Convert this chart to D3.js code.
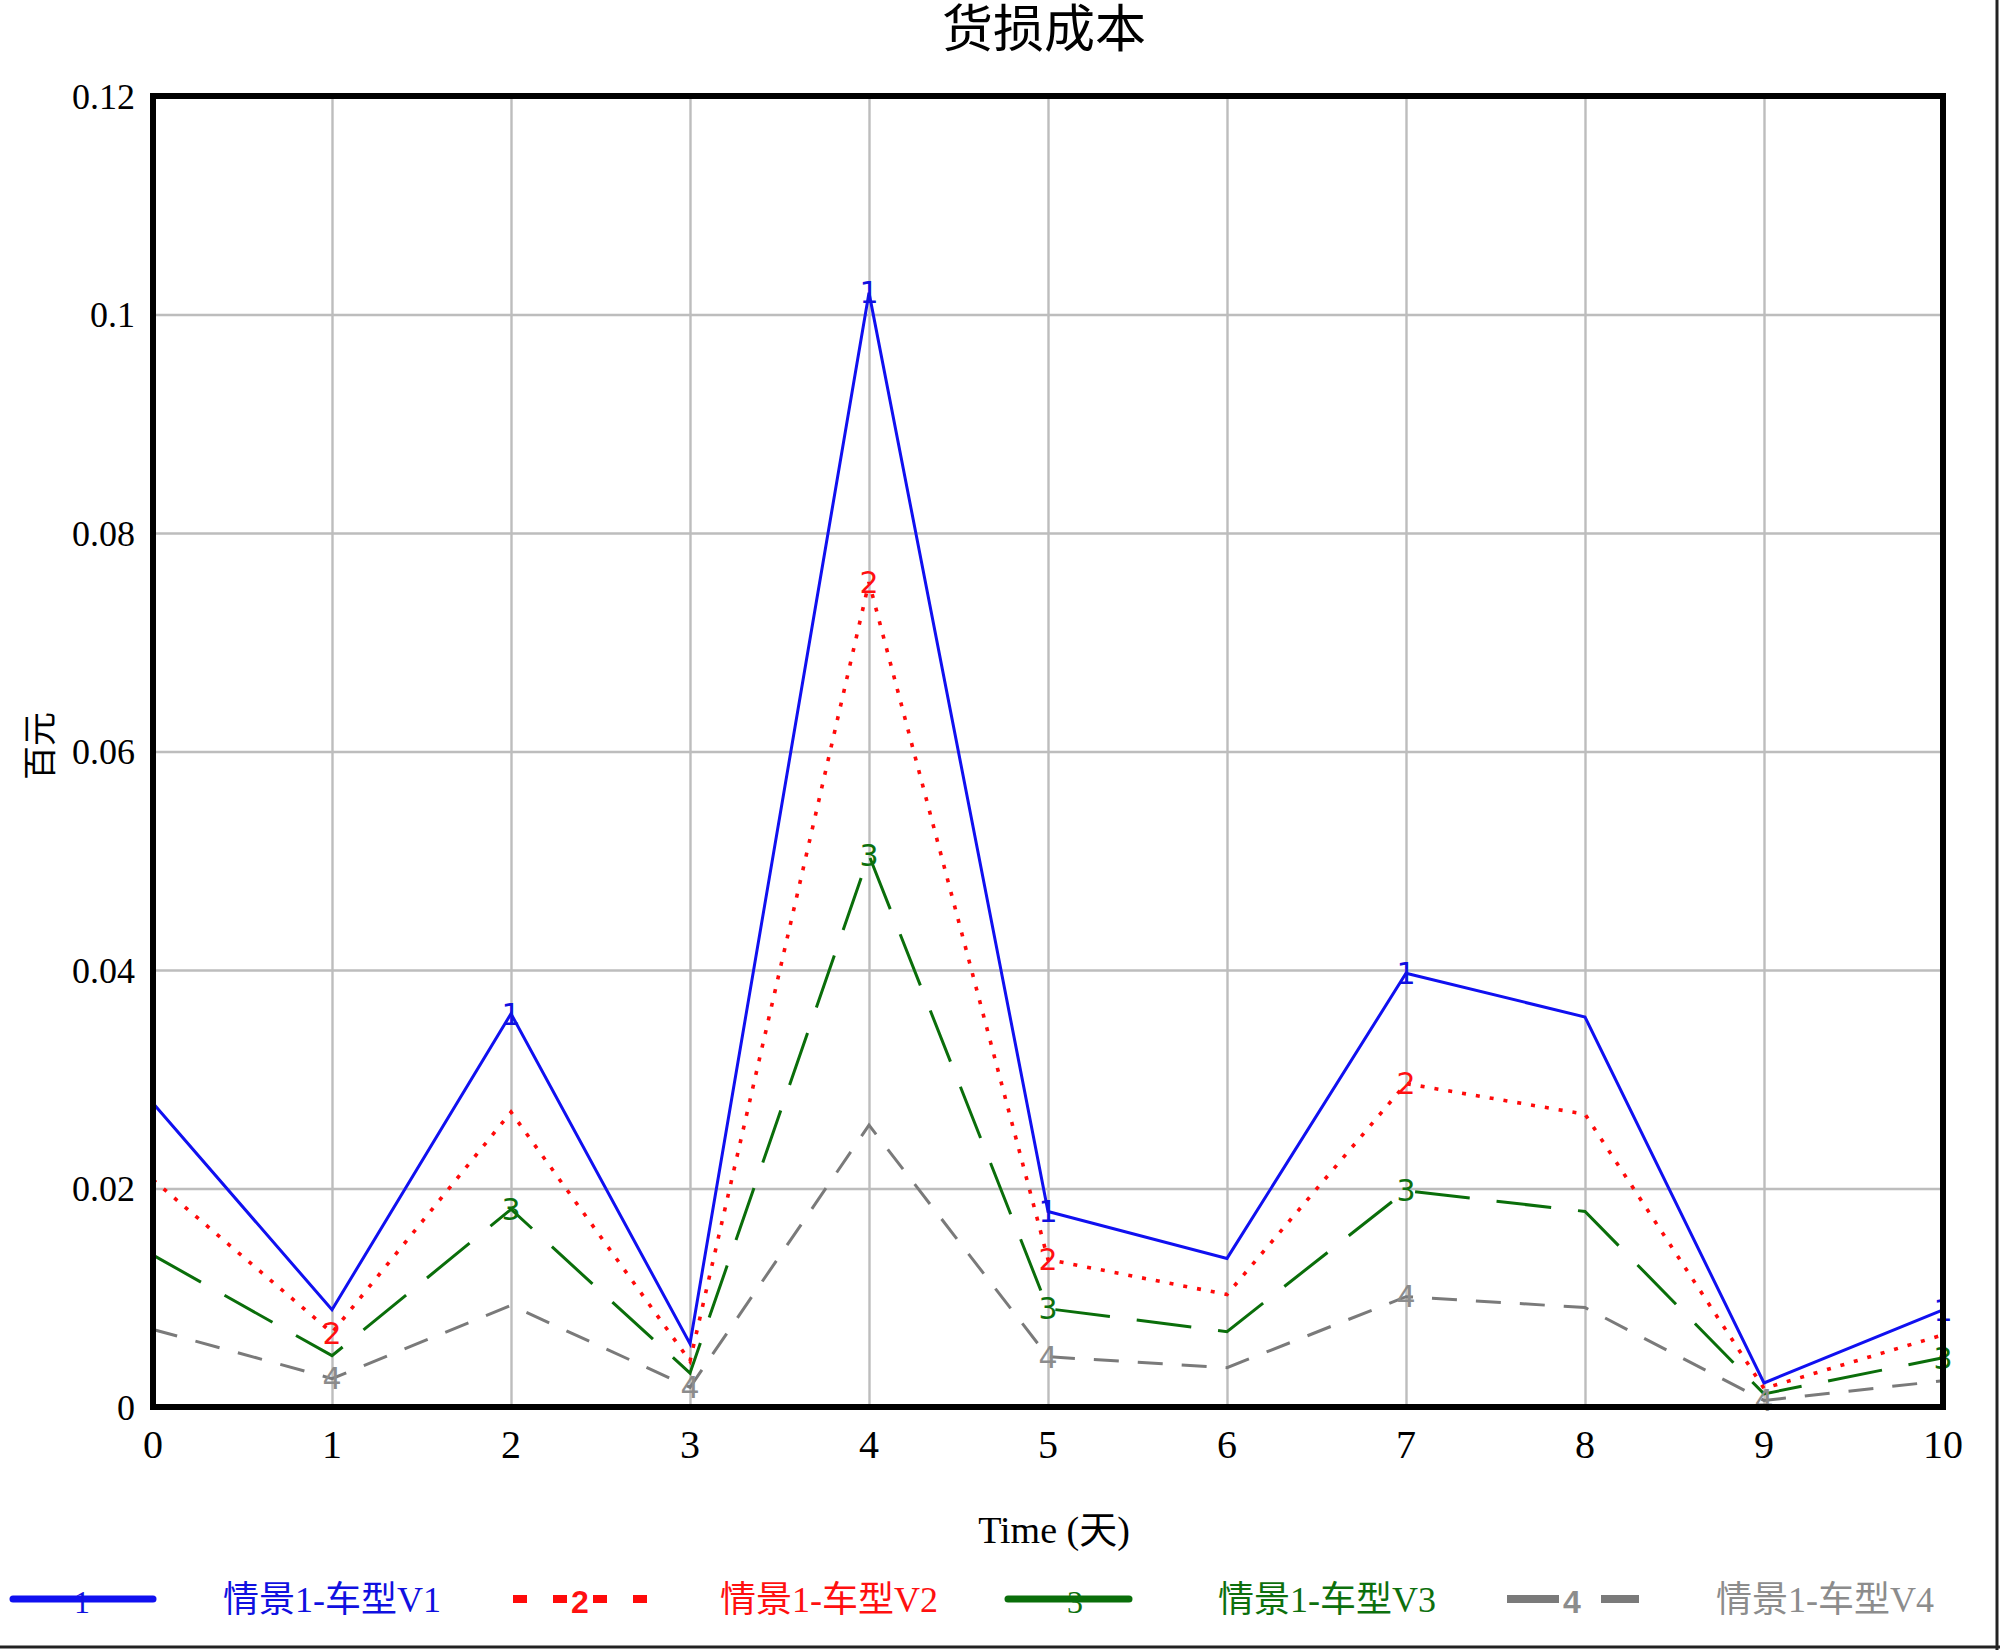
<!DOCTYPE html>
<meta charset="utf-8">
<style>
  body { margin: 0; background: #fff; }
  .tick { font: 36px "Liberation Serif", serif; fill: #000; }
  .title { font: 51px "Liberation Serif", "Noto Sans CJK SC", serif; fill: #000; }
  .axisTitle { font: 38px "Liberation Serif", "Noto Sans CJK SC", serif; fill: #000; }
  .mark { font: 30px "DejaVu Sans", sans-serif; }
  .legendText { font: 36px "Liberation Serif", "Noto Sans CJK SC", serif; }
</style>
<svg id="chart" width="2000" height="1650"></svg>
<script src="https://d3js.org/d3.v7.min.js"></script>
<script>

// data (Time in days, value in 百元)
var times = [0, 1, 2, 3, 4, 5, 6, 7, 8, 9, 10];
var v1 = [0.0278, 0.0089, 0.0360, 0.0058, 0.1020, 0.0179, 0.0136, 0.0397, 0.0357, 0.0022, 0.0089];
var v2 = [0.0208, 0.0068, 0.0270, 0.0042, 0.0755, 0.0135, 0.0103, 0.0296, 0.0268, 0.0017, 0.0066];
var v3 = [0.0139, 0.0047, 0.0181, 0.0031, 0.0505, 0.0090, 0.0069, 0.0198, 0.0179, 0.0012, 0.0045];
var v4 = [0.0071, 0.0026, 0.0093, 0.0018, 0.0258, 0.0046, 0.0036, 0.0101, 0.0091, 0.0006, 0.0024];
var seriesNames = ["情景1-车型V1", "情景1-车型V2", "情景1-车型V3", "情景1-车型V4"];
var markIdx = [[2, 4, 5, 7, 10], [1, 4, 5, 7], [2, 4, 5, 7, 10], [1, 3, 5, 7, 9]];
var yTicks = [0, 0.02, 0.04, 0.06, 0.08, 0.1, 0.12];
var xTicks = [0, 1, 2, 3, 4, 5, 6, 7, 8, 9, 10];

var svg = d3.select("#chart"),
    margin = {top: 96, right: 57, bottom: 243, left: 153},
    width = +svg.attr("width") - margin.left - margin.right,
    height = +svg.attr("height") - margin.top - margin.bottom;

var x = d3.scaleLinear().domain([0, 10]).range([margin.left, margin.left + width]);
var y = d3.scaleLinear().domain([0, 0.12]).range([margin.top + height, margin.top]);

var styles = [
  {color: "#1010f0", dash: null, width: 3},
  {color: "#ff0a0a", dash: "4,10", width: 3.6},
  {color: "#0a6e0a", dash: "55,27", width: 3},
  {color: "#7a7a7a", dash: "25,19", width: 3}
];
var textColors = ["#1010e0", "#ff1010", "#0d700d", "#8c8c8c"];

// grid
svg.append("g")
  .call(d3.axisBottom(x).tickValues(xTicks).tickSize(-height).tickFormat(""))
  .attr("transform", "translate(0," + (margin.top + height) + ")")
  .call(function(g) {
    g.select(".domain").remove();
    g.selectAll("line").attr("stroke", "#bdbdbd").attr("stroke-width", 2.4);
  });
svg.append("g")
  .call(d3.axisLeft(y).tickValues(yTicks).tickSize(-width).tickFormat(""))
  .attr("transform", "translate(" + margin.left + ",0)")
  .call(function(g) {
    g.select(".domain").remove();
    g.selectAll("line").attr("stroke", "#bdbdbd").attr("stroke-width", 2.4);
  });

// tick labels
svg.append("g").selectAll("text").data(yTicks).enter().append("text")
  .attr("class", "tick")
  .attr("x", margin.left - 18)
  .attr("y", function(d) { return y(d); })
  .attr("dy", "0.35em")
  .attr("text-anchor", "end")
  .text(d3.format("~g"));
svg.append("g").selectAll("text").data(xTicks).enter().append("text")
  .attr("class", "tick")
  .style("font-size", "40px")
  .attr("x", function(d) { return x(d); })
  .attr("y", margin.top + height + 37)
  .attr("dy", "0.35em")
  .attr("text-anchor", "middle")
  .text(function(d) { return d; });

// lines
var all = [v1, v2, v3, v4];
var line = d3.line()
  .x(function(d, i) { return x(times[i]); })
  .y(function(d) { return y(d); });

all.forEach(function(vals, s) {
  svg.append("path")
    .datum(vals)
    .attr("fill", "none")
    .attr("stroke", styles[s].color)
    .attr("stroke-width", styles[s].width)
    .attr("stroke-dasharray", styles[s].dash)
    .attr("stroke-linejoin", "miter")
    .attr("d", line);
});

// number markers on the lines
all.forEach(function(vals, s) {
  svg.append("g").selectAll("text").data(markIdx[s]).enter().append("text")
    .attr("class", "mark")
    .attr("fill", textColors[s])
    .attr("x", function(i) { return x(times[i]); })
    .attr("y", function(i) { return y(vals[i]); })
    .attr("dy", "0.36em")
    .attr("text-anchor", "middle")
    .text(s + 1);
});

// frame
svg.append("rect")
  .attr("x", margin.left).attr("y", margin.top)
  .attr("width", width).attr("height", height)
  .attr("fill", "none").attr("stroke", "#000").attr("stroke-width", 6);

// outer edge lines (right and bottom)
svg.append("line").attr("x1", 1997).attr("x2", 1997).attr("y1", 0).attr("y2", 1650)
  .attr("stroke", "#222").attr("stroke-width", 3);
svg.append("line").attr("x1", 0).attr("x2", 2000).attr("y1", 1647).attr("y2", 1647)
  .attr("stroke", "#222").attr("stroke-width", 3);

// titles
svg.append("text")
  .attr("class", "title")
  .attr("x", 1044).attr("y", 29)
  .attr("dy", "0.35em")
  .attr("text-anchor", "middle")
  .text("货损成本");

svg.append("text")
  .attr("class", "axisTitle")
  .attr("x", 1054).attr("y", 1530)
  .attr("dy", "0.35em")
  .attr("text-anchor", "middle")
  .text("Time (天)");

svg.append("text")
  .attr("class", "axisTitle")
  .style("font-size", "34px")
  .attr("transform", "translate(40,746) rotate(-90)")
  .attr("dy", "0.35em")
  .attr("text-anchor", "middle")
  .text("百元");

// legend
var legendY = 1599;
var legendItems = [
  {x1: 13, x2: 153, dash: null, w: 7, mx: 82, tx: 223, font: "Liberation Serif", bold: false},
  {x1: 513, x2: 647, dash: "14,26", w: 8, mx: 580, tx: 720, font: "Liberation Sans", bold: true},
  {x1: 1008, x2: 1129, dash: null, w: 7, mx: 1075, tx: 1218, font: "Liberation Serif", bold: false},
  {x1: 1507, x2: 1639, dash: "52,42", w: 8, mx: 1572, tx: 1716, font: "Liberation Sans", bold: true}
];
var legend = svg.append("g").attr("class", "legend");
legendItems.forEach(function(it, s) {
  var g = legend.append("g");
  g.append("line")
    .attr("x1", it.x1).attr("x2", it.x2)
    .attr("y1", legendY).attr("y2", legendY)
    .attr("stroke", styles[s].color)
    .attr("stroke-width", it.w)
    .attr("stroke-dasharray", it.dash)
    .attr("stroke-linecap", s == 0 || s == 2 ? "round" : "butt");
  g.append("text")
    .attr("x", it.mx).attr("y", legendY + 2)
    .attr("dy", "0.36em")
    .attr("text-anchor", "middle")
    .style("font-family", it.font)
    .style("font-weight", it.bold ? "bold" : "normal")
    .style("font-size", "32px")
    .attr("fill", textColors[s])
    .text(s + 1);
  g.append("text")
    .attr("class", "legendText")
    .attr("x", it.tx).attr("y", legendY)
    .attr("dy", "0.35em")
    .attr("fill", textColors[s])
    .text(seriesNames[s]);
});

</script>
